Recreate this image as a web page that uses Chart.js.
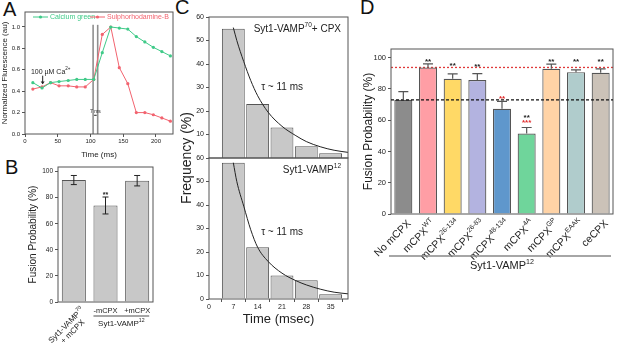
<!DOCTYPE html>
<html lang="en">
<head>
  <meta charset="UTF-8" />
  <title>Fusion probability figure</title>
  <script src="https://cdn.jsdelivr.net/npm/chart.js"></script>
  <style>
    body {
      margin: 0;
      background: #fff;
      width: 617px;
      height: 345px;
      position: relative;
      overflow: hidden;
      font-family: 'Liberation Sans', Arial, sans-serif;
    }
    canvas { position: absolute; }
    .letra {
      position: absolute;
      font-size: 20px;
      line-height: 1;
      color: #111;
    }
  </style>
</head>
<body>

<div class="letra" style="left:3px; top:-1px">A</div>
<div class="letra" style="left:5px; top:157px">B</div>
<div class="letra" style="left:175px; top:-3px">C</div>
<div class="letra" style="left:360px; top:-3px">D</div>

<canvas id="graficoA" width="180" height="160" style="left:0; top:0"></canvas>
<canvas id="graficoB" width="175" height="187" style="left:0; top:158px"></canvas>
<canvas id="graficoC1" width="175" height="345" style="left:178px; top:0"></canvas>
<canvas id="graficoC2" width="175" height="345" style="left:178px; top:0"></canvas>
<canvas id="graficoD" width="262" height="345" style="left:355px; top:0"></canvas>

<script>
  // ---- datos ----
  // Panel A: fluorescencia normalizada
  const tiempoA = [12, 26, 39, 52, 66, 79, 92, 105, 118, 131, 144, 157, 170, 183, 196, 209, 222];
  const calcioVerde = [0.48, 0.43, 0.48, 0.49, 0.50, 0.51, 0.51, 0.51, 0.76, 1.00, 0.99, 0.98, 0.91, 0.86, 0.81, 0.77, 0.73];
  const sulforodamina = [0.42, 0.44, 0.48, 0.45, 0.45, 0.44, 0.44, 0.51, 0.93, 1.00, 0.62, 0.47, 0.20, 0.20, 0.18, 0.15, 0.12];
  const marcasTiempo = [104, 111];
  const ticksXA = [0, 50, 100, 150, 200];
  const ticksYA = [0, 0.2, 0.4, 0.6, 0.8, 1.0];

  // Panel B
  const etiquetasB = ['Syt1-VAMP70 + mCPX', '-mCPX', '+mCPX'];
  const fusionB = [93.5, 74, 93];
  const errorB = [3.5, 6.5, 4];
  const estrellasB = ['', '**', ''];
  const nivelEstrellasB = [null, 83.6, null];
  const ticksYB = [0, 20, 40, 60, 80, 100];

  // Panel C: histogramas de latencia
  const centrosBin = [7, 14, 21, 28, 35];
  const frecVamp70 = [55, 23, 13, 5, 2];
  const frecVamp12 = [58, 22, 10, 8, 2];
  const tiempoAjuste = [7, 8, 10, 12, 14, 17, 21, 25, 28, 32, 36, 40];
  const ajusteVamp70 = [55.5, 50, 41, 33, 26.5, 19.5, 13.5, 9.5, 7, 4.8, 3.3, 2.4];
  const ajusteVamp12 = [58, 50, 39.5, 29.5, 22, 16, 11, 7.8, 6, 4.2, 2.9, 2.2];
  const ticksXC = [0, 7, 14, 21, 28, 35];
  const ticksYC1 = [10, 20, 30, 40, 50, 60];
  const ticksYC2 = [0, 10, 20, 30, 40, 50, 60];

  // Panel D
  const nombresD = ['No mCPX', 'mCPX', 'mCPX', 'mCPX', 'mCPX', 'mCPX', 'mCPX', 'mCPX', 'ceCPX'];
  const supD = ['', 'WT', '26-134', '26-83', '48-134', '4A', 'GP', 'EAAK', ''];
  const fusionD = [73, 93.7, 86.5, 85.6, 67.3, 51.5, 92.8, 90.7, 90.3];
  const errorD = [5.3, 2.3, 3.1, 4.2, 4.7, 3.8, 3.0, 1.5, 2.5];
  const coloresD = ['#8c8c8c', '#ff9ea5', '#ffd966', '#b3b3e0', '#5f97cc', '#6fd59b', '#ffd3a6', '#b0cccc', '#cbc2b8'];
  const estrellasNegras = ['', '**', '**', '**', '', '**', '**', '**', '**'];
  const nivelNegras = [null, 99, 96.5, 95.8, null, 62.8, 98.6, 98.6, 98.6];
  const estrellasRojas = ['', '', '', '', '**', '***', '', '', ''];
  const nivelRojas = [null, null, null, null, 75, 59.8, null, null, null];
  const nivelWT = 93.7;
  const nivelSinCPX = 73;
  const ticksYD = [0, 20, 40, 60, 80, 100];

  // ---- estilos comunes ----
  const FUENTE = "'Liberation Sans', Arial, sans-serif";
  const VERDE = '#3fca88';
  const ROJO = '#f2636f';
  Chart.defaults.font.family = FUENTE;
  Chart.defaults.color = '#222';
  Chart.defaults.animation = false;
  Chart.defaults.responsive = false;
  Chart.defaults.devicePixelRatio = 1;
  Chart.defaults.plugins.legend.display = false;
  Chart.defaults.plugins.tooltip.enabled = false;

  const rejilla = { display: true, drawOnChartArea: false, drawTicks: true, tickLength: 3, color: '#555' };
  const fijarTicks = valores => s => { s.ticks = valores.map(v => ({ value: v })); };

  function textoRico(ctx, partes, x, y, tam, alinear) {
    const fuenteDe = sup => `${sup ? tam * 0.65 : tam}px ${FUENTE}`;
    let ancho = 0;
    partes.forEach(([t, sup]) => { ctx.font = fuenteDe(sup); ancho += ctx.measureText(t).width; });
    let cx = alinear === 'right' ? x - ancho : alinear === 'center' ? x - ancho / 2 : x;
    ctx.textAlign = 'left';
    partes.forEach(([t, sup]) => {
      ctx.font = fuenteDe(sup);
      ctx.fillText(t, cx, sup ? y - tam * 0.4 : y);
      cx += ctx.measureText(t).width;
    });
    return ancho;
  }

  // Marco alrededor del area de datos
  const marcoPlugin = {
    id: 'marco',
    afterDatasetsDraw(chart) {
      const a = chart.chartArea, ctx = chart.ctx;
      ctx.save();
      ctx.strokeStyle = '#555';
      ctx.lineWidth = 1;
      ctx.strokeRect(a.left, a.top, a.right - a.left, a.bottom - a.top);
      ctx.restore();
    }
  };

  // ---- Panel A ----
  const anotacionesA = {
    id: 'anotacionesA',
    beforeDatasetsDraw(chart) {
      const { ctx, scales: { x, y } } = chart;
      ctx.save();
      ctx.strokeStyle = '#8f8f8f';
      ctx.lineWidth = 1.6;
      marcasTiempo.forEach(t => {
        ctx.beginPath();
        ctx.moveTo(x.getPixelForValue(t), y.getPixelForValue(0));
        ctx.lineTo(x.getPixelForValue(t), y.getPixelForValue(1.02));
        ctx.stroke();
      });
      ctx.restore();
    },
    afterDatasetsDraw(chart) {
      const { ctx, chartArea: a, scales: { x, y } } = chart;
      ctx.save();
      // leyenda
      ctx.textBaseline = 'middle';
      const ly = a.top + 5;
      [[VERDE, 'Calcium green', a.left + 8], [ROJO, 'Sulphorhodamine-B', a.left + 65]].forEach(([c, t, lx]) => {
        ctx.strokeStyle = c; ctx.fillStyle = c; ctx.lineWidth = 1;
        ctx.beginPath(); ctx.moveTo(lx, ly); ctx.lineTo(lx + 15, ly); ctx.stroke();
        ctx.beginPath(); ctx.arc(lx + 7.5, ly, 1.6, 0, Math.PI * 2); ctx.fill();
        ctx.font = `7px ${FUENTE}`;
        ctx.textAlign = 'left';
        ctx.fillText(t, lx + 17, ly + 0.5);
      });
      // 100 uM Ca2+
      ctx.fillStyle = '#222';
      textoRico(ctx, [['100 µM Ca', false], ['2+', true]], x.getPixelForValue(9), y.getPixelForValue(0.58), 7, 'left');
      const fx = x.getPixelForValue(27);
      ctx.strokeStyle = '#222'; ctx.lineWidth = 1;
      ctx.beginPath(); ctx.moveTo(fx, y.getPixelForValue(0.545)); ctx.lineTo(fx, y.getPixelForValue(0.47)); ctx.stroke();
      ctx.beginPath();
      ctx.moveTo(fx - 2, y.getPixelForValue(0.49)); ctx.lineTo(fx, y.getPixelForValue(0.465)); ctx.lineTo(fx + 2, y.getPixelForValue(0.49));
      ctx.fill();
      // 7 ms
      const x0 = x.getPixelForValue(marcasTiempo[0]), x1 = x.getPixelForValue(marcasTiempo[1]);
      ctx.font = `5px ${FUENTE}`;
      ctx.textAlign = 'center';
      ctx.fillText('7 ms', (x0 + x1) / 2, y.getPixelForValue(0.21));
      const ay = y.getPixelForValue(0.175);
      ctx.beginPath(); ctx.moveTo(x0 + 1, ay); ctx.lineTo(x1 - 1, ay); ctx.stroke();
      ctx.restore();
    }
  };

  new Chart(document.getElementById('graficoA'), {
    type: 'line',
    data: {
      datasets: [
        {
          label: 'Calcium green',
          data: tiempoA.map((t, i) => ({ x: t, y: calcioVerde[i] })),
          borderColor: VERDE, backgroundColor: VERDE,
          borderWidth: 1, pointRadius: 1.6, pointBorderWidth: 0
        },
        {
          label: 'Sulphorhodamine-B',
          data: tiempoA.map((t, i) => ({ x: t, y: sulforodamina[i] })),
          borderColor: ROJO, backgroundColor: ROJO,
          borderWidth: 1, pointRadius: 1.6, pointBorderWidth: 0
        }
      ]
    },
    options: {
      layout: { padding: { top: 12, right: 7, left: 0, bottom: 0 } },
      scales: {
        x: {
          type: 'linear', min: 0, max: 226,
          afterBuildTicks: fijarTicks(ticksXA),
          afterFit: s => { s.height = 26; },
          ticks: { font: { size: 6 }, padding: 1, maxRotation: 0 },
          grid: rejilla, border: { display: false },
          title: { display: true, text: 'Time (ms)', font: { size: 8 }, padding: { top: 3, bottom: 0 } }
        },
        y: {
          min: 0, max: 1.14,
          afterBuildTicks: fijarTicks(ticksYA),
          afterFit: s => { s.width = 25; },
          ticks: { font: { size: 6 }, padding: 2, callback: v => v.toFixed(1) },
          grid: rejilla, border: { display: false },
          title: { display: true, text: 'Normalized Flurescence (au)', font: { size: 8 }, padding: 0 }
        }
      }
    },
    plugins: [marcoPlugin, anotacionesA]
  });

  // ---- Panel B ----
  const extrasB = {
    id: 'extrasB',
    afterDatasetsDraw(chart) {
      const { ctx, chartArea: a, scales: { x, y } } = chart;
      const barras = chart.getDatasetMeta(0).data;
      ctx.save();
      ctx.strokeStyle = '#222'; ctx.fillStyle = '#222'; ctx.lineWidth = 1;
      barras.forEach((b, i) => {
        const yt = y.getPixelForValue(fusionB[i] + errorB[i]);
        const yb = y.getPixelForValue(fusionB[i] - errorB[i]);
        ctx.beginPath();
        ctx.moveTo(b.x, yt); ctx.lineTo(b.x, yb);
        ctx.moveTo(b.x - 3, yt); ctx.lineTo(b.x + 3, yt);
        ctx.moveTo(b.x - 3, yb); ctx.lineTo(b.x + 3, yb);
        ctx.stroke();
        if (estrellasB[i]) {
          ctx.font = `bold 7px ${FUENTE}`;
          ctx.textAlign = 'center';
          ctx.fillText(estrellasB[i], b.x, y.getPixelForValue(nivelEstrellasB[i]) + 4);
        }
      });
      // etiquetas del eje x
      ctx.textBaseline = 'middle';
      const c0 = x.getPixelForValue(0);
      ctx.save();
      ctx.translate(c0 + 9, a.bottom + 7);
      ctx.rotate(-Math.PI / 4);
      const w1 = textoRico(ctx, [['Syt1-VAMP', false], ['70', true]], 0, 0, 8, 'right');
      textoRico(ctx, [['+ mCPX', false]], -w1 / 2, 9, 8, 'center');
      ctx.restore();
      ctx.font = `7.5px ${FUENTE}`;
      ctx.textAlign = 'center';
      ctx.fillText(etiquetasB[1], x.getPixelForValue(1), a.bottom + 9);
      ctx.fillText(etiquetasB[2], x.getPixelForValue(2), a.bottom + 9);
      const mitad = barras[1].width / 2;
      ctx.strokeStyle = '#888'; ctx.lineWidth = 1.5;
      ctx.beginPath();
      ctx.moveTo(x.getPixelForValue(1) - mitad, a.bottom + 14);
      ctx.lineTo(x.getPixelForValue(2) + mitad, a.bottom + 14);
      ctx.stroke();
      textoRico(ctx, [['Syt1-VAMP', false], ['12', true]], (x.getPixelForValue(1) + x.getPixelForValue(2)) / 2, a.bottom + 22, 8, 'center');
      ctx.restore();
    }
  };

  new Chart(document.getElementById('graficoB'), {
    type: 'bar',
    data: {
      labels: etiquetasB,
      datasets: [{
        data: fusionB,
        backgroundColor: '#c8c8c8', borderColor: '#555', borderWidth: 1,
        barPercentage: 0.76, categoryPercentage: 1
      }]
    },
    options: {
      layout: { padding: { top: 9, right: 22, left: 27, bottom: 0 } },
      scales: {
        x: {
          ticks: { display: false }, grid: { display: false }, border: { display: false },
          afterFit: s => { s.height = 43; }
        },
        y: {
          min: 0, max: 103.5,
          afterBuildTicks: fijarTicks(ticksYB),
          afterFit: s => { s.width = 31; },
          ticks: { font: { size: 6.5 }, padding: 2 },
          grid: rejilla, border: { display: false },
          title: { display: true, text: 'Fusion Probability (%)', font: { size: 10 }, padding: 0 }
        }
      }
    },
    plugins: [marcoPlugin, extrasB]
  });

  // ---- Panel C ----
  function textosC(nombre, sup, sufijo, nivelTau, conTitulo) {
    return {
      id: 'textosC',
      afterDatasetsDraw(chart) {
        const { ctx, chartArea: a, scales: { x, y } } = chart;
        ctx.save();
        ctx.fillStyle = '#222';
        ctx.textBaseline = 'middle';
        textoRico(ctx, [[nombre, false], [sup, true], [sufijo, false]], a.right - 7, a.top + 12, 10, 'right');
        textoRico(ctx, [['τ ~ 11 ms', false]], x.getPixelForValue(15), y.getPixelForValue(nivelTau), 10, 'left');
        if (conTitulo) {
          ctx.translate(a.left - 22, a.top);
          ctx.rotate(-Math.PI / 2);
          ctx.font = `14px ${FUENTE}`;
          ctx.textAlign = 'center';
          ctx.fillText('Frequency (%)', 0, 0);
        }
        ctx.restore();
      }
    };
  }

  function histograma(id, frec, ajuste, arriba, abajo, relleno, ticksY, mostrarX, textos) {
    return new Chart(document.getElementById(id), {
      type: 'bar',
      data: {
        datasets: [
          {
            type: 'line',
            data: tiempoAjuste.map((t, i) => ({ x: t, y: ajuste[i] })),
            borderColor: '#222', borderWidth: 1, pointRadius: 0,
            tension: 0.4, cubicInterpolationMode: 'monotone', order: 0
          },
          {
            type: 'bar',
            data: centrosBin.map((t, i) => ({ x: t, y: frec[i] })),
            backgroundColor: '#c8c8c8', borderColor: '#555', borderWidth: 1,
            barPercentage: 1, categoryPercentage: 0.94, order: 1
          }
        ]
      },
      options: {
        layout: { padding: { top: arriba, right: 5, left: 0, bottom: relleno } },
        scales: {
          x: {
            type: 'linear', min: 0, max: 40, offset: false,
            afterBuildTicks: fijarTicks(ticksXC),
            afterFit: s => { s.height = abajo; },
            ticks: { display: mostrarX, font: { size: 7 }, padding: 1, maxRotation: 0 },
            grid: mostrarX ? rejilla : { display: false },
            border: { display: false },
            title: { display: mostrarX, text: 'Time (msec)', font: { size: 13 }, padding: { top: 2, bottom: 0 } }
          },
          y: {
            min: 0, max: 60,
            afterBuildTicks: fijarTicks(ticksY),
            afterFit: s => { s.width = 31; },
            ticks: { font: { size: 7 }, padding: 2 },
            grid: rejilla, border: { display: false }
          }
        }
      },
      plugins: [marcoPlugin, textos]
    });
  }

  histograma('graficoC1', frecVamp70, ajusteVamp70, 17, 187, 0, ticksYC1, false,
    textosC('Syt1-VAMP', '70', '+ CPX', 30, false));
  histograma('graficoC2', frecVamp12, ajusteVamp12, 158, 28, 18, ticksYC2, true,
    textosC('Syt1-VAMP', '12', '', 28.3, true));

  // ---- Panel D ----
  const extrasD = {
    id: 'extrasD',
    beforeDatasetsDraw(chart) {
      const { ctx, chartArea: a, scales: { y } } = chart;
      ctx.save();
      ctx.lineWidth = 1.3;
      ctx.setLineDash([2, 2]);
      ctx.strokeStyle = '#e03a3a';
      ctx.beginPath(); ctx.moveTo(a.left, y.getPixelForValue(nivelWT)); ctx.lineTo(a.right, y.getPixelForValue(nivelWT)); ctx.stroke();
      ctx.restore();
    },
    afterDatasetsDraw(chart) {
      const { ctx, chartArea: a, scales: { x, y } } = chart;
      const barras = chart.getDatasetMeta(0).data;
      ctx.save();
      ctx.lineWidth = 1.3;
      ctx.setLineDash([3, 2]);
      ctx.strokeStyle = '#111';
      ctx.beginPath(); ctx.moveTo(a.left, y.getPixelForValue(nivelSinCPX)); ctx.lineTo(a.right, y.getPixelForValue(nivelSinCPX)); ctx.stroke();
      ctx.setLineDash([]);
      ctx.strokeStyle = '#555'; ctx.lineWidth = 1.2;
      barras.forEach((b, i) => {
        const yt = y.getPixelForValue(fusionD[i] + errorD[i]);
        ctx.beginPath();
        ctx.moveTo(b.x, b.y); ctx.lineTo(b.x, yt);
        ctx.moveTo(b.x - 5, yt); ctx.lineTo(b.x + 5, yt);
        ctx.stroke();
      });
      ctx.font = `bold 8px ${FUENTE}`;
      ctx.textAlign = 'center';
      ctx.textBaseline = 'alphabetic';
      barras.forEach((b, i) => {
        if (estrellasNegras[i]) {
          ctx.fillStyle = '#222';
          ctx.fillText(estrellasNegras[i], b.x, y.getPixelForValue(nivelNegras[i]) + 4.5);
        }
        if (estrellasRojas[i]) {
          ctx.fillStyle = '#e02b2b';
          ctx.fillText(estrellasRojas[i], b.x, y.getPixelForValue(nivelRojas[i]) + 4.5);
        }
      });
      // etiquetas rotadas
      ctx.fillStyle = '#222';
      ctx.textBaseline = 'middle';
      barras.forEach((b, i) => {
        ctx.save();
        ctx.translate(x.getPixelForValue(i) + 6, a.bottom + 8);
        ctx.rotate(-Math.PI / 4);
        textoRico(ctx, [[nombresD[i], false], [supD[i], true]], 0, 0, 10.5, 'right');
        ctx.restore();
      });
      ctx.strokeStyle = '#888'; ctx.lineWidth = 1.5;
      ctx.beginPath(); ctx.moveTo(a.left - 2, 256); ctx.lineTo(a.right - 2, 256); ctx.stroke();
      textoRico(ctx, [['Syt1-VAMP', false], ['12', true]], (a.left + a.right) / 2, 266, 11, 'center');
      ctx.restore();
    }
  };

  new Chart(document.getElementById('graficoD'), {
    type: 'bar',
    data: {
      labels: nombresD.map((n, i) => n + supD[i]),
      datasets: [{
        data: fusionD,
        backgroundColor: coloresD, borderColor: '#555', borderWidth: 1.2,
        barPercentage: 0.73, categoryPercentage: 1
      }]
    },
    options: {
      layout: { padding: { top: 49, right: 4, left: 6, bottom: 0 } },
      scales: {
        x: {
          ticks: { display: false }, grid: { display: false }, border: { display: false },
          afterFit: s => { s.height = 131; }
        },
        y: {
          min: 0, max: 105.5,
          afterBuildTicks: fijarTicks(ticksYD),
          afterFit: s => { s.width = 30; },
          ticks: { font: { size: 7.5 }, padding: 2 },
          grid: rejilla, border: { display: false },
          title: { display: true, text: 'Fusion Probability (%)', font: { size: 12 }, padding: 0 }
        }
      }
    },
    plugins: [marcoPlugin, extrasD]
  });
</script>

</body>
</html>
